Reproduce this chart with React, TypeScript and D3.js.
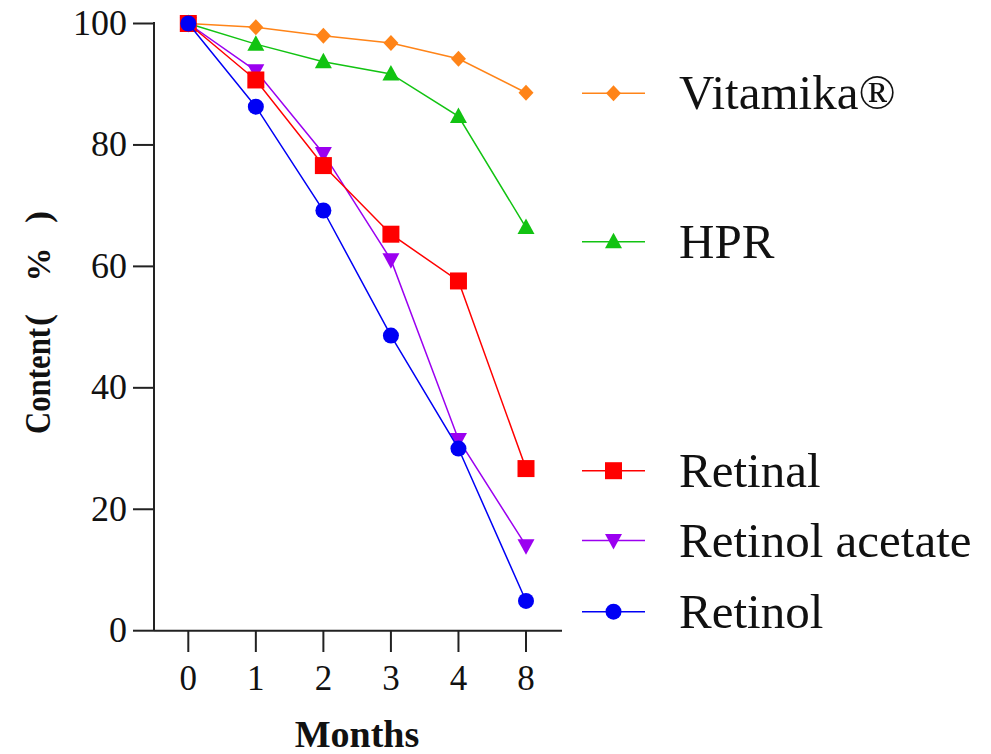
import React from "react";
import * as d3 from "d3";

const months = ["0", "1", "2", "3", "4", "8"];
const vitamika = [100, 99.4, 98.0, 96.8, 94.2, 88.6];
const hpr = [100, 96.6, 93.7, 91.7, 84.7, 66.4];
const retinal = [100, 90.7, 76.6, 65.3, 57.6, 26.7];
const retinolAcetate = [100, 92.2, 78.6, 61.1, 31.5, 14.0];
const retinol = [100, 86.3, 69.2, 48.6, 30.0, 4.9];
const yTicks = [0, 20, 40, 60, 80, 100];

const seriesNames = ["Vitamika®", "HPR", "Retinal", "Retinol acetate", "Retinol"];
const seriesColors = ["#FF8418", "#12C312", "#FF0000", "#9B00F0", "#0000F5"];
const seriesShapes = ["diamond", "triangleUp", "square", "triangleDown", "circle"];
const seriesData = [vitamika, hpr, retinal, retinolAcetate, retinol];
const drawOrder = [0, 1, 3, 2, 4];
const legendY = [93.3, 241.7, 470.7, 540.5, 611.7];

const FONT = "Liberation Serif, Times New Roman, serif";

function markerPath(shape: string): string {
  const p = d3.path();
  if (shape === "diamond") {
    p.moveTo(0, -8); p.lineTo(7.5, 0); p.lineTo(0, 8); p.lineTo(-7.5, 0); p.closePath();
  } else if (shape === "triangleUp") {
    p.moveTo(0, -9); p.lineTo(8.5, 6.5); p.lineTo(-8.5, 6.5); p.closePath();
  } else if (shape === "triangleDown") {
    p.moveTo(0, 9); p.lineTo(8.5, -6.5); p.lineTo(-8.5, -6.5); p.closePath();
  } else if (shape === "square") {
    p.rect(-8.5, -8.5, 17, 17);
  } else {
    p.arc(0, 0, 8, 0, Math.PI * 2);
  }
  return p.toString();
}

export default function App() {
  const x = d3.scalePoint<string>().domain(months).range([188.3, 526]);
  const y = d3.scaleLinear().domain([0, 100]).range([630.7, 23.5]);
  const line = d3
    .line<number>()
    .x((_, i) => x(months[i]) as number)
    .y((d) => y(d));

  const axisX0 = 154;
  const axisXEnd = 562;
  const axisY0 = y(0);

  return (
    <svg
      width={991}
      height={754}
      style={{ position: "absolute", left: 0, top: 0, background: "#fff" }}
    >
      <rect x={0} y={0} width={991} height={754} fill="#fff" />
      {/* axes */}
      <line x1={axisX0} x2={axisX0} y1={y(100) - 1.5} y2={axisY0} stroke="#222" strokeWidth={2} />
      <line x1={axisX0} x2={axisXEnd} y1={axisY0} y2={axisY0} stroke="#222" strokeWidth={2} />
      {yTicks.map((t) => (
        <g key={"yt" + t}>
          <line x1={133} x2={axisX0} y1={y(t)} y2={y(t)} stroke="#222" strokeWidth={2} />
          <text
            x={127}
            y={y(t) + 11.5}
            textAnchor="end"
            fontFamily={FONT}
            fontSize={36}
            fill="#111"
          >
            {t}
          </text>
        </g>
      ))}
      {months.map((m) => (
        <g key={"xt" + m}>
          <line
            x1={x(m) as number}
            x2={x(m) as number}
            y1={axisY0}
            y2={652}
            stroke="#222"
            strokeWidth={2}
          />
          <text
            x={x(m) as number}
            y={690}
            textAnchor="middle"
            fontFamily={FONT}
            fontSize={35}
            fill="#111"
          >
            {m}
          </text>
        </g>
      ))}
      <text
        x={357}
        y={747}
        textAnchor="middle"
        fontFamily={FONT}
        fontSize={38}
        fontWeight="bold"
        fill="#111"
      >
        Months
      </text>
      {/* y-axis title */}
      <g transform="translate(50,0) rotate(-90)">
        <text x={-381} y={0} textAnchor="middle" fontFamily={FONT} fontSize={36} fontWeight="bold" fill="#111" textLength={106} lengthAdjust="spacingAndGlyphs">
          Content
        </text>
        <text x={-320} y={0} textAnchor="middle" fontFamily={FONT} fontSize={36} fontWeight="bold" fill="#111">
          (
        </text>
        <text x={-264.5} y={0} textAnchor="middle" fontFamily={FONT} fontSize={34} fontWeight="bold" fill="#111">
          %
        </text>
        <text x={-217} y={0} textAnchor="middle" fontFamily={FONT} fontSize={36} fontWeight="bold" fill="#111">
          )
        </text>
      </g>
      {/* series */}
      {drawOrder.map((si) => (
        <g key={"s" + si}>
          <path
            d={line(seriesData[si]) || ""}
            fill="none"
            stroke={seriesColors[si]}
            strokeWidth={1.5}
          />
          {seriesData[si].map((v, i) => (
            <path
              key={i}
              d={markerPath(seriesShapes[si])}
              transform={`translate(${x(months[i])},${y(v)})`}
              fill={seriesColors[si]}
            />
          ))}
        </g>
      ))}
      {/* legend */}
      {seriesNames.map((name, si) => (
        <g key={"l" + si}>
          <line
            x1={582}
            x2={645}
            y1={legendY[si]}
            y2={legendY[si]}
            stroke={seriesColors[si]}
            strokeWidth={1.5}
          />
          <path
            d={markerPath(seriesShapes[si])}
            transform={`translate(613.5,${legendY[si]})`}
            fill={seriesColors[si]}
          />
          <text
            x={679}
            y={legendY[si] + 16}
            fontFamily={FONT}
            fontSize={49}
            fill="#111"
          >
            {name}
          </text>
        </g>
      ))}
    </svg>
  );
}
